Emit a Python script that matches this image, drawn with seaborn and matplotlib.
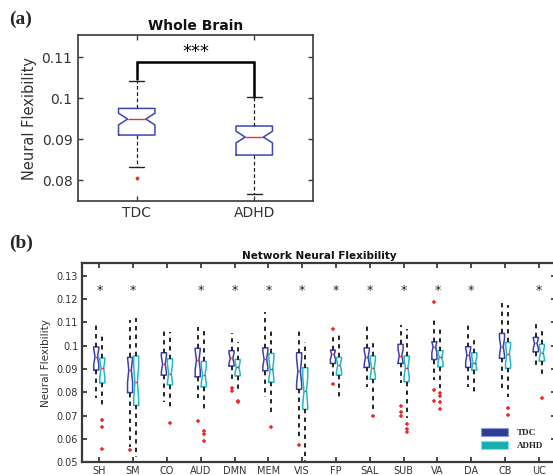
import matplotlib

matplotlib.use("Agg")
import matplotlib.pyplot as plt
import matplotlib.ticker as mticker
from matplotlib.patches import Patch
import seaborn as sns

# ── data ─────────────────────────────────────────────────────
groups = ["TDC", "ADHD"]

# whole brain: whislo, q1, median, q3, whishi
wb_tdc = [0.0831, 0.0910, 0.0949, 0.0975, 0.1041]
wb_adhd = [0.0766, 0.0861, 0.0905, 0.0932, 0.1002]
wb_tdc_fliers = [0.0804]
wb_adhd_fliers = []

networks = ["SH", "SM", "CO", "AUD", "DMN", "MEM", "VIS",
            "FP", "SAL", "SUB", "VA", "DA", "CB", "UC"]
significant = ["SH", "SM", "AUD", "DMN", "MEM", "VIS", "FP",
               "SAL", "SUB", "VA", "DA", "UC"]

tdc_whishi = [0.1089, 0.1110, 0.1071, 0.1081, 0.1053, 0.1143, 0.1074,
              0.1050, 0.1091, 0.1089, 0.1124, 0.1099, 0.1191, 0.1099]
tdc_q3 = [0.0995, 0.0950, 0.0970, 0.0989, 0.0979, 0.0991, 0.0970,
          0.0981, 0.0991, 0.1006, 0.1017, 0.0996, 0.1053, 0.1036]
tdc_med = [0.0953, 0.0896, 0.0921, 0.0939, 0.0946, 0.0943, 0.0891,
           0.0963, 0.0950, 0.0957, 0.0996, 0.0960, 0.0996, 0.1010]
tdc_q1 = [0.0896, 0.0799, 0.0874, 0.0867, 0.0913, 0.0893, 0.0813,
          0.0924, 0.0907, 0.0924, 0.0941, 0.0907, 0.0946, 0.0974]
tdc_whislo = [0.0774, 0.0567, 0.0760, 0.0774, 0.0839, 0.0781, 0.0610,
              0.0867, 0.0824, 0.0839, 0.0853, 0.0824, 0.0803, 0.0910]
tdc_fliers = [[], [0.0553], [], [0.0677], [0.0817, 0.0805], [], [0.0574],
              [0.1070, 0.0834], [], [0.0743, 0.0714, 0.0700],
              [0.1186, 0.0810, 0.0764], [], [], []]

adhd_whishi = [0.1044, 0.1120, 0.1057, 0.1066, 0.1014, 0.1070, 0.1017,
               0.1053, 0.1027, 0.1070, 0.1081, 0.1041, 0.1174, 0.1070]
adhd_q3 = [0.0947, 0.0956, 0.0944, 0.0933, 0.0941, 0.0967, 0.0906,
           0.0950, 0.0956, 0.0956, 0.0979, 0.0970, 0.1014, 0.1006]
adhd_med = [0.0903, 0.0843, 0.0881, 0.0876, 0.0907, 0.0900, 0.0806,
            0.0917, 0.0903, 0.0906, 0.0950, 0.0927, 0.0964, 0.0971]
adhd_q1 = [0.0841, 0.0744, 0.0833, 0.0824, 0.0871, 0.0843, 0.0727,
           0.0874, 0.0856, 0.0846, 0.0910, 0.0896, 0.0903, 0.0934]
adhd_whislo = [0.0739, 0.0524, 0.0731, 0.0717, 0.0796, 0.0710, 0.0505,
               0.0774, 0.0724, 0.0689, 0.0817, 0.0803, 0.0781, 0.0867]
adhd_fliers = [[0.0681, 0.0650, 0.0557], [], [0.0667], [0.0633, 0.0623, 0.0590],
               [0.0763, 0.0757], [0.0653], [], [], [0.0700],
               [0.0663, 0.0643, 0.0629], [0.0799, 0.0784, 0.0760, 0.0729],
               [], [0.0731, 0.0703], [0.0777]]


def make_stat(lo, q1, med, q3, hi, fliers, notch_frac):
    half = notch_frac * (q3 - q1)
    return dict(whislo=lo, q1=q1, med=med, q3=q3, whishi=hi, fliers=fliers,
                cilo=max(med - half, q1), cihi=min(med + half, q3))


sns.set_theme(style="ticks")
plt.rcParams["font.family"] = ["DejaVu Sans"]

fig = plt.figure(figsize=(5.53, 4.75), dpi=100)

TXT = "#333333"
SPINE = "#3a3a3a"

# ── (a) whole brain ──────────────────────────────────────────
ax1 = fig.add_axes([0.141, 0.577, 0.425, 0.349])
stats_a = [make_stat(*wb_tdc, wb_tdc_fliers, 0.22),
           make_stat(*wb_adhd, wb_adhd_fliers, 0.2)]
ax1.bxp(stats_a, positions=[1, 2], widths=0.31, shownotches=True,
        capwidths=0.125, manage_ticks=False,
        boxprops=dict(color="#3b48b0", lw=1.1),
        medianprops=dict(color="#e8322a", lw=1.0),
        whiskerprops=dict(color="#222222", lw=0.9, ls=(0, (3, 2))),
        capprops=dict(color="#222222", lw=1.0),
        flierprops=dict(marker="o", markersize=1.8, markerfacecolor="#e8322a",
                        markeredgecolor="#e8322a"))
ax1.set_xlim(0.5, 2.5)
ax1.set_ylim(0.0749, 0.1154)
ax1.set_xticks([1, 2])
ax1.set_xticklabels(groups)
ax1.yaxis.set_major_locator(mticker.FixedLocator([0.08, 0.09, 0.1, 0.11]))
ax1.yaxis.set_major_formatter(mticker.FormatStrFormatter("%g"))
ax1.tick_params(direction="in", top=True, right=True, length=3.5, width=1,
                labelsize=10, labelcolor=TXT, color=SPINE, pad=4)
ax1.set_ylabel("Neural Flexibility", fontsize=10.5, color=TXT, labelpad=3)
ax1.set_title("Whole Brain", fontsize=10, fontweight="bold", color="#111111", pad=4)
for s in ax1.spines.values():
    s.set_color(SPINE)
    s.set_linewidth(1.2)

# significance bracket
ax1.plot([1, 1, 2, 2], [0.1046, 0.1089, 0.1089, 0.1003], color="black", lw=1.8,
         solid_joinstyle="miter")
ax1.text(1.5, 0.1090, "***", ha="center", va="bottom", fontsize=13, color="black")

# ── (b) network level ────────────────────────────────────────
ax2 = fig.add_axes([0.149, 0.0267, 0.856, 0.4196])
pos = list(range(1, len(networks) + 1))
off = 0.09

common = dict(widths=0.15, shownotches=True, showcaps=False, manage_ticks=False,
              medianprops=dict(color="#e8322a", lw=1.0),
              whiskerprops=dict(color="#222222", lw=1.4, ls=(0, (2.2, 2.2))),
              flierprops=dict(marker="+", markersize=3.5, markeredgewidth=1.1,
                              markeredgecolor="#ee2a2a"))

stats_t = [make_stat(tdc_whislo[i], tdc_q1[i], tdc_med[i], tdc_q3[i], tdc_whishi[i],
                     tdc_fliers[i], 0.35) for i in range(len(networks))]
stats_h = [make_stat(adhd_whislo[i], adhd_q1[i], adhd_med[i], adhd_q3[i], adhd_whishi[i],
                     adhd_fliers[i], 0.35) for i in range(len(networks))]
ax2.bxp(stats_t, positions=[p - off for p in pos],
        boxprops=dict(color="#3d3fae", lw=1.1), **common)
ax2.bxp(stats_h, positions=[p + off for p in pos],
        boxprops=dict(color="#22b9c2", lw=1.1), **common)

for name in significant:
    ax2.text(networks.index(name) + 1, 0.1236, "*", ha="center", va="center",
             fontsize=9, color="#222222")

ax2.set_xlim(0.5, 14.5)
ax2.set_ylim(0.05, 0.1355)
ax2.set_xticks(pos)
ax2.set_xticklabels(networks)
ax2.yaxis.set_major_locator(mticker.FixedLocator([0.05, 0.06, 0.07, 0.08, 0.09,
                                                  0.1, 0.11, 0.12, 0.13]))
ax2.yaxis.set_major_formatter(mticker.FormatStrFormatter("%g"))
ax2.tick_params(direction="in", top=True, right=True, length=3.5, width=1.3,
                labelsize=7, labelcolor=TXT, color=SPINE, pad=3)
ax2.set_ylabel("Neural Flexibility", fontsize=7.5, color=TXT, labelpad=4)
ax2.set_title("Network Neural Flexibility", fontsize=7.5, fontweight="bold",
              color="#111111", pad=3)
for s in ax2.spines.values():
    s.set_color(SPINE)
    s.set_linewidth(1.6)

handles = [Patch(facecolor="#2e3d93", edgecolor="#8d96d8", lw=0.8, label="TDC"),
           Patch(facecolor="#17aeb0", edgecolor="#8fdde0", lw=0.8, label="ADHD")]
ax2.legend(handles=handles, loc="lower right", bbox_to_anchor=(0.99, 0.02),
           frameon=False, handlelength=2.9, handleheight=1.0, handletextpad=1.0,
           labelspacing=0.4, prop=dict(family="Liberation Serif", weight="bold", size=6.5))

# panel letters
fig.text(0.016, 0.978, "(a)", fontsize=14, fontweight="bold",
         family="Liberation Serif", va="top")
fig.text(0.016, 0.505, "(b)", fontsize=14, fontweight="bold",
         family="Liberation Serif", va="top")

fig.savefig("out.png", dpi=100)
